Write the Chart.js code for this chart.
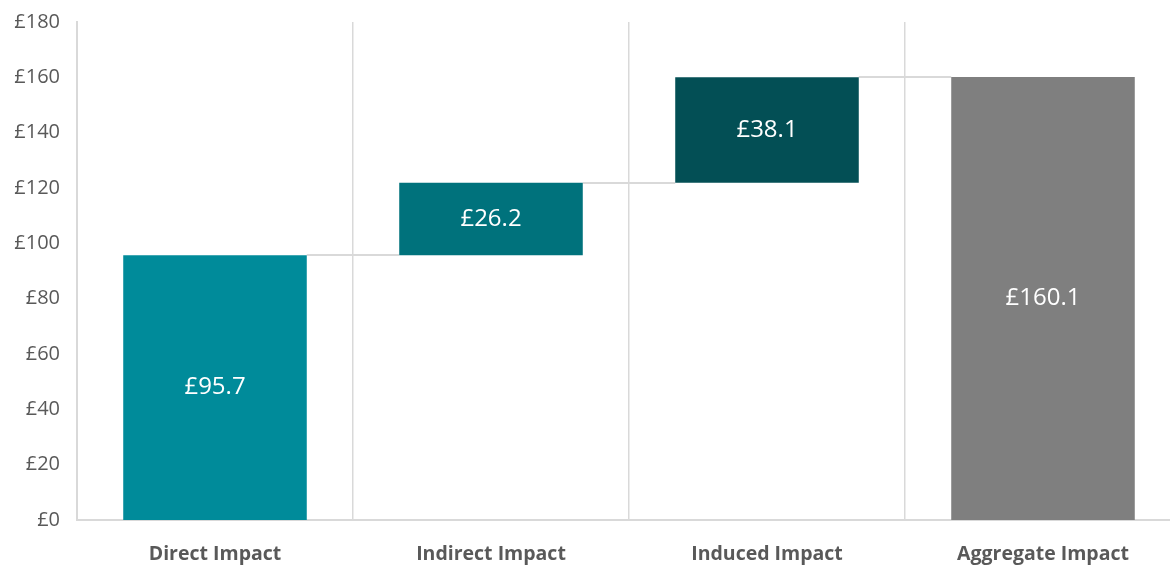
<!DOCTYPE html>
<html>
<head>
<meta charset="utf-8">
<script src="https://cdn.jsdelivr.net/npm/chart.js@4"></script>
<style>
html,body{margin:0;padding:0;background:#fff;overflow:hidden;width:1170px;height:565px;}
canvas{display:block;}
</style>
</head>
<body>
<canvas id="c" width="1181" height="565"></canvas>
<script>
const categories = ['Direct Impact', 'Indirect Impact', 'Induced Impact', 'Aggregate Impact'];
const increments = [95.7, 26.2, 38.1];
const totalValue = 160.1;
const labelValues = [95.7, 26.2, 38.1, 160.1];
const barColors = ['#008B9A', '#00727C', '#034F55', '#7F7F7F'];
const yTicks = [0, 20, 40, 60, 80, 100, 120, 140, 160, 180];

// floating ranges built from increments
const ranges = [];
let run = 0;
increments.forEach(v => { ranges.push([run, +(run + v).toFixed(1)]); run = +(run + v).toFixed(1); });
ranges.push([0, totalValue]);

const FONT = "'Open Sans', sans-serif";
const GRID = '#D9D9D9';

const connectors = {
  id: 'connectors',
  beforeDatasetsDraw(chart) {
    const meta = chart.getDatasetMeta(0);
    const y = chart.scales.y;
    const ctx = chart.ctx;
    ctx.save();
    ctx.strokeStyle = GRID;
    ctx.lineWidth = 2;
    for (let i = 0; i < meta.data.length - 1; i++) {
      const a = meta.data[i], b = meta.data[i + 1];
      const top = ranges[i][1];
      const py = Math.round(y.getPixelForValue(top));
      ctx.beginPath();
      ctx.moveTo(a.x + a.width / 2, py);
      ctx.lineTo(b.x - b.width / 2, py);
      ctx.stroke();
    }
    ctx.restore();
  }
};

const valueLabels = {
  id: 'valueLabels',
  afterDatasetsDraw(chart) {
    const meta = chart.getDatasetMeta(0);
    const ctx = chart.ctx;
    ctx.save();
    ctx.fillStyle = '#FFFFFF';
    ctx.font = "24px " + FONT;
    ctx.textAlign = 'center';
    ctx.textBaseline = 'middle';
    meta.data.forEach((bar, i) => {
      const cy = (bar.y + bar.base) / 2;
      ctx.fillText('£' + labelValues[i].toFixed(1), bar.x, cy);
    });
    ctx.restore();
  }
};

new Chart(document.getElementById('c'), {
  type: 'bar',
  data: {
    labels: categories,
    datasets: [{
      data: ranges,
      backgroundColor: barColors,
      borderWidth: 0,
      barPercentage: 0.665,
      categoryPercentage: 1.0
    }]
  },
  options: {
    responsive: false,
    animation: false,
    layout: { padding: { top: 22, right: 0, left: 0, bottom: 0 } },
    plugins: { legend: { display: false }, tooltip: { enabled: false } },
    scales: {
      x: {
        offset: true,
        grid: { display: true, offset: true, color: GRID, lineWidth: 1.5, drawTicks: false },
        border: { display: true, color: GRID, width: 2 },
        ticks: { color: '#595959', font: { family: FONT, size: 19.5, weight: 'bold' }, padding: 23, maxRotation: 0 },
        afterFit(s) { s.height = 45; s.paddingLeft = 0; s.paddingRight = 0; }
      },
      y: {
        min: 0, max: 180,
        afterBuildTicks(s) { s.ticks = yTicks.map(v => ({ value: v })); },
        grid: { display: false, drawTicks: false },
        border: { display: true, color: GRID, width: 2 },
        ticks: { color: '#595959', font: { family: FONT, size: 20 }, padding: 17, callback: v => '£' + v },
        afterFit(s) { s.width = 77; s.paddingTop = 0; s.paddingBottom = 0; }
      }
    }
  },
  plugins: [connectors, valueLabels]
});
</script>
</body>
</html>
